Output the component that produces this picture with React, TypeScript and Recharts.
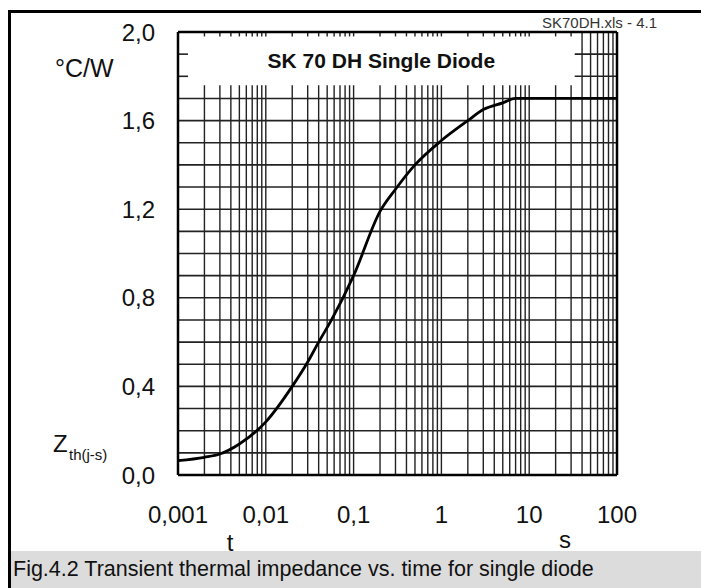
import { LineChart, Line, XAxis, YAxis, ReferenceLine, ReferenceArea } from 'recharts';

// Zth(j-s) curve
const times = [0.001, 0.002, 0.003, 0.005, 0.01, 0.02, 0.03, 0.04, 0.056, 0.1, 0.2, 0.3, 0.5, 1, 2, 3, 5, 7, 10, 100];
const zth = [0.065, 0.08, 0.095, 0.14, 0.24, 0.4, 0.51, 0.6, 0.7, 0.9, 1.19, 1.29, 1.4, 1.51, 1.6, 1.65, 1.68, 1.7, 1.7, 1.7];

const xTicks = [0.001, 0.01, 0.1, 1, 10, 100];
const yTicks = [0, 0.4, 0.8, 1.2, 1.6, 2.0];
const decades = [0.001, 0.01, 0.1, 1, 10];
const mantissas = [1, 2, 3, 4, 5, 6, 7, 8, 9];
const hGrid = [0.1, 0.2, 0.3, 0.4, 0.5, 0.6, 0.7, 0.8, 0.9, 1.0, 1.1, 1.2, 1.3, 1.4, 1.5, 1.6, 1.7, 1.8, 1.9];
// white title box behind "SK 70 DH Single Diode", in data units
const titleBox = { x1: 0.0013, x2: 33, y1: 1.76, y2: 1.98 };

const data = times.map((t, i) => ({ t, z: zth[i] }));
const vGrid = decades.flatMap(d => mantissas.map(m => +(m * d).toPrecision(3))).filter(v => v > 0.001);
const comma = (v: number) => String(v).replace('.', ',');

const FONT = '"Liberation Sans", Arial, Helvetica, sans-serif';
const GRID = '#222';

type Pt = { x: number; y: number };
// grid lines are cut where the title box sits
const vSegments: [Pt, Pt][] = vGrid.flatMap(v =>
  v > titleBox.x1 && v < titleBox.x2
    ? [[{ x: v, y: 0 }, { x: v, y: titleBox.y1 }], [{ x: v, y: titleBox.y2 }, { x: v, y: 2 }]] as [Pt, Pt][]
    : [[{ x: v, y: 0 }, { x: v, y: 2 }]] as [Pt, Pt][]);
const hSegments: [Pt, Pt][] = hGrid.flatMap(v =>
  v > titleBox.y1 && v < titleBox.y2
    ? [[{ x: 0.001, y: v }, { x: titleBox.x1, y: v }], [{ x: titleBox.x2, y: v }, { x: 100, y: v }]] as [Pt, Pt][]
    : [[{ x: 0.001, y: v }, { x: 100, y: v }]] as [Pt, Pt][]);

export default function App() {
  return (
    <div style={{ position: 'absolute', left: 0, top: 0, width: 701, height: 588, background: '#fff', overflow: 'hidden', fontFamily: FONT }}>
      <div style={{ position: 'absolute', left: 8, top: 10, width: 720, height: 600, borderLeft: '3px solid #000', borderTop: '3px solid #000' }} />
      <div style={{ position: 'absolute', left: 11, top: 551, width: 690, height: 37, background: '#dcdcdc', fontSize: 21.5, lineHeight: '37px', paddingLeft: 2, color: '#111' }}>
        Fig.4.2 Transient thermal impedance vs. time for single diode
      </div>
      <div style={{ position: 'absolute', left: 0, top: 0 }}>
        <LineChart width={701} height={588} data={data} margin={{ top: 32, right: 84, bottom: 53, left: 78 }} style={{ fontFamily: FONT }}>
          <XAxis dataKey="t" type="number" scale="log" domain={[0.001, 100]} allowDataOverflow ticks={xTicks}
            tickFormatter={comma} height={60} tickSize={0} tickMargin={31} axisLine={false}
            tick={{ fill: '#111', fontSize: 24 }} />
          <YAxis type="number" domain={[0, 2]} ticks={yTicks} allowDataOverflow width={100}
            tickFormatter={(v: number) => v.toFixed(1).replace('.', ',')} tickSize={0} tickMargin={23} axisLine={false}
            tick={{ fill: '#111', fontSize: 24 }} />
          {vSegments.map((s, i) => <ReferenceLine key={'v' + i} segment={s} stroke={GRID} strokeWidth={1.4} />)}
          {hSegments.map((s, i) => <ReferenceLine key={'h' + i} segment={s} stroke={GRID} strokeWidth={1.6} />)}
          <ReferenceArea x1={titleBox.x1} x2={titleBox.x2} y1={titleBox.y1} y2={titleBox.y2} fill="#fff" fillOpacity={0} stroke="none"
            label={{ value: 'SK 70 DH Single Diode', position: 'center', fill: '#111', fontSize: 21, fontWeight: 700 }} />
          <ReferenceLine x={0.001} stroke="#000" strokeWidth={2.5} />
          <ReferenceLine x={100} stroke="#000" strokeWidth={2.5} />
          <ReferenceLine y={0} stroke="#000" strokeWidth={2.5} />
          <ReferenceLine y={2} stroke="#000" strokeWidth={2.5} />
          <Line type="monotone" dataKey="z" stroke="#000" strokeWidth={2.8} dot={false} isAnimationActive={false} />
        </LineChart>
      </div>
      <svg width={701} height={588} style={{ position: 'absolute', left: 0, top: 0, pointerEvents: 'none' }} fontFamily={FONT}>
        <text x={542} y={28} fontSize={15} fill="#333">SK70DH.xls - 4.1</text>
        <text x={55} y={77} fontSize={25} fill="#111">°C/W</text>
        <text x={53} y={452} fontSize={24} fill="#111">Z</text>
        <text x={69} y={460} fontSize={15} fill="#111">th(j-s)</text>
        <text x={230} y={551} fontSize={24} fill="#111" textAnchor="middle">t</text>
        <text x={565} y={548} fontSize={24} fill="#111" textAnchor="middle">s</text>
      </svg>
    </div>
  );
}
